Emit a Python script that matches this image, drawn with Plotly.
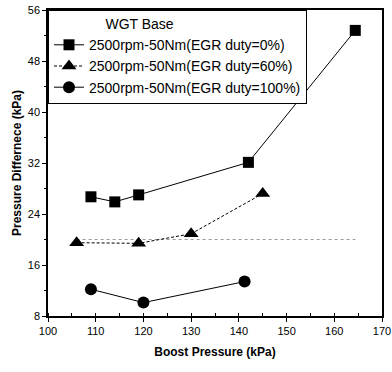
import plotly.graph_objects as go

# Data
x_duty0 = [109, 114, 119, 142, 164.4]
y_duty0 = [26.7, 25.9, 27.0, 32.1, 52.8]

x_duty60 = [106, 119, 130, 145]
y_duty60 = [19.5, 19.4, 20.9, 27.2]

x_duty100 = [109, 120, 141.2]
y_duty100 = [12.2, 10.1, 13.4]

ref_x = [106, 164.4]
ref_y = [20, 20]

names = ["2500rpm-50Nm(EGR duty=0%)", "2500rpm-50Nm(EGR duty=60%)", "2500rpm-50Nm(EGR duty=100%)"]

fig = go.Figure()
fig.add_trace(go.Scatter(x=ref_x, y=ref_y, mode="lines", showlegend=False,
                         line=dict(color="#9a9a9a", width=1, dash="dot")))
fig.add_trace(go.Scatter(x=x_duty0, y=y_duty0, mode="lines+markers", name=names[0],
                         line=dict(color="black", width=1),
                         marker=dict(symbol="square", size=11, color="black")))
fig.add_trace(go.Scatter(x=x_duty60, y=y_duty60, mode="lines+markers", name=names[1],
                         line=dict(color="black", width=1, dash="3px,2px"),
                         marker=dict(symbol="triangle-up", size=13, color="black")))
fig.add_trace(go.Scatter(x=x_duty100, y=y_duty100, mode="lines+markers", name=names[2],
                         line=dict(color="black", width=1),
                         marker=dict(symbol="circle", size=12, color="black")))

font = "Liberation Sans, Arial, sans-serif"
fig.update_layout(
    width=392, height=372,
    margin=dict(l=48, r=10, t=10, b=56),
    plot_bgcolor="white", paper_bgcolor="white",
    font=dict(family=font, color="black", size=11),
    legend=dict(x=0, y=1, xanchor="left", yanchor="top",
                bgcolor="white", bordercolor="black", borderwidth=1,
                font=dict(size=14, family=font),
                title=dict(text="              WGT Base", font=dict(size=14, family=font)),
                tracegroupgap=0, itemwidth=30),
    xaxis=dict(range=[100, 170], tickvals=[100, 110, 120, 130, 140, 150, 160, 170],
               automargin=False,
               showgrid=False, zeroline=False, showline=True, linecolor="black", linewidth=1.5,
               mirror=True, ticks="outside", ticklen=4, tickcolor="black",
               minor=dict(dtick=5, ticks="inside", ticklen=3, tickcolor="black"),
               title=dict(text="<b>Boost Pressure (kPa)</b>", font=dict(size=12), standoff=12),
               tickfont=dict(size=11)),
    yaxis=dict(range=[8, 56], tickvals=[8, 16, 24, 32, 40, 48, 56],
               automargin=False,
               showgrid=False, zeroline=False, showline=True, linecolor="black", linewidth=1.5,
               mirror=True, ticks="outside", ticklen=4, tickcolor="black",
               minor=dict(dtick=4, ticks="outside", ticklen=2, tickcolor="black"),
               title=dict(text="<b>Pressure Differnece (kPa)</b>", font=dict(size=12), standoff=4),
               tickfont=dict(size=11)),
)

fig.write_html("out.html")
